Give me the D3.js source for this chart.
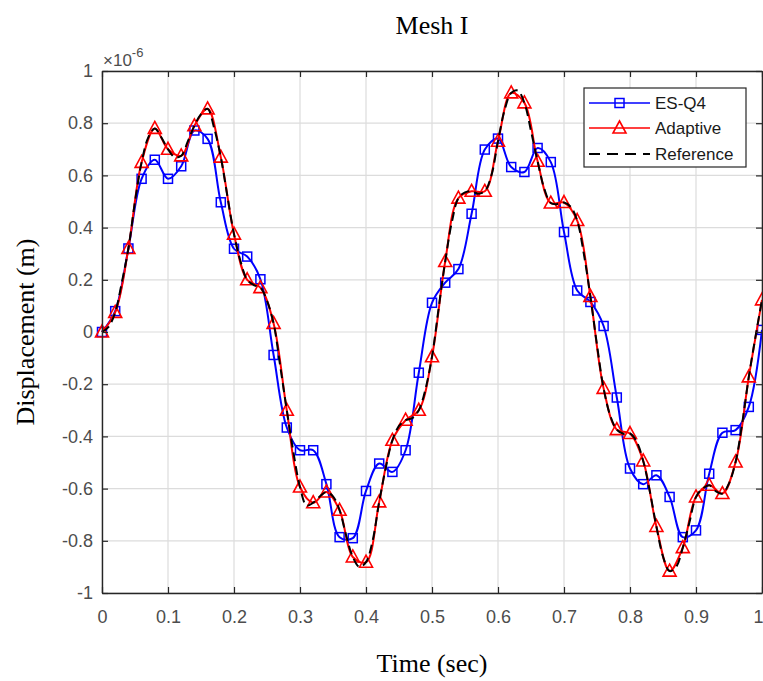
<!DOCTYPE html>
<html>
<head>
<meta charset="utf-8">
<script src="https://cdn.jsdelivr.net/npm/d3@7"></script>
<style>
  body { margin: 0; background: #fff; }
  svg { display: block; }
</style>
</head>
<body>
<svg id="chart" width="763" height="681"></svg>
<script>
// Axis ticks and labels
const xTicks = [0, 0.1, 0.2, 0.3, 0.4, 0.5, 0.6, 0.7, 0.8, 0.9, 1];
const xTickLabels = ["0", "0.1", "0.2", "0.3", "0.4", "0.5", "0.6", "0.7", "0.8", "0.9", "1"];
const yTicks = [-1, -0.8, -0.6, -0.4, -0.2, 0, 0.2, 0.4, 0.6, 0.8, 1];
const yTickLabels = ["-1", "-0.8", "-0.6", "-0.4", "-0.2", "0", "0.2", "0.4", "0.6", "0.8", "1"];

// Sample times (sec): markers every 0.02 s, reference solution every 0.01 s
const sampleTimes = d3.range(51).map(i => +(i * 0.02).toFixed(2));
const refTimes = d3.range(101).map(i => +(i * 0.01).toFixed(2));

// Displacement (x 1e-6 m)
const esq4 = [
  0.00, 0.08, 0.32, 0.587, 0.66, 0.587, 0.635, 0.772, 0.740, 0.497,
  0.319, 0.289, 0.202, -0.088, -0.366, -0.453, -0.453, -0.583, -0.786, -0.79,
  -0.609, -0.504, -0.536, -0.453, -0.156, 0.112, 0.189, 0.241, 0.453, 0.699,
  0.741, 0.632, 0.613, 0.705, 0.651, 0.383, 0.159, 0.115, 0.023, -0.251,
  -0.523, -0.583, -0.549, -0.632, -0.786, -0.760, -0.543, -0.386, -0.376, -0.287,
  0.008
];
const adaptive = [
  0.00, 0.075, 0.32, 0.65, 0.78, 0.70, 0.675, 0.79, 0.855, 0.67,
  0.375, 0.20, 0.17, 0.033, -0.30, -0.594, -0.654, -0.613, -0.683, -0.862,
  -0.882, -0.651, -0.415, -0.338, -0.30, -0.095, 0.270, 0.513, 0.539, 0.539,
  0.731, 0.916, 0.878, 0.654, 0.494, 0.496, 0.427, 0.136, -0.216, -0.374,
  -0.389, -0.494, -0.745, -0.916, -0.826, -0.632, -0.587, -0.619, -0.498, -0.172,
  0.123
];
const reference = [
  0.00, 0.02, 0.075, 0.19, 0.32, 0.50, 0.65, 0.745, 0.78, 0.745,
  0.70, 0.67, 0.675, 0.73, 0.79, 0.835, 0.855, 0.78, 0.67, 0.52,
  0.375, 0.27, 0.20, 0.18, 0.17, 0.12, 0.033, -0.13, -0.30, -0.46,
  -0.594, -0.665, -0.654, -0.63, -0.613, -0.63, -0.683, -0.78, -0.862, -0.90,
  -0.882, -0.80, -0.651, -0.52, -0.415, -0.36, -0.338, -0.33, -0.30, -0.22,
  -0.095, 0.09, 0.270, 0.42, 0.513, 0.535, 0.539, 0.53, 0.539, 0.60,
  0.731, 0.85, 0.916, 0.925, 0.878, 0.77, 0.654, 0.55, 0.494, 0.49,
  0.496, 0.48, 0.427, 0.30, 0.136, -0.05, -0.216, -0.32, -0.374, -0.39,
  -0.389, -0.42, -0.494, -0.61, -0.745, -0.86, -0.916, -0.90, -0.826, -0.73,
  -0.632, -0.60, -0.587, -0.61, -0.619, -0.58, -0.498, -0.35, -0.172, -0.02,
  0.123
];

const legendLabels = ["ES-Q4", "Adaptive", "Reference"];

const svg = d3.select("#chart");
const W = 763, H = 681;
const plot = { left: 102, right: 762, top: 71, bottom: 593 };

svg.append("rect").attr("width", W).attr("height", H).attr("fill", "#fff");

const x = d3.scaleLinear().domain([0, 1]).range([plot.left, plot.right]);
const y = d3.scaleLinear().domain([-1, 1]).range([plot.bottom, plot.top]);

const tickFont = "'Liberation Sans', Arial, Helvetica, sans-serif";
const axisColor = "#262626";
const tickLen = 6;

// Grid
const grid = svg.append("g").attr("class", "grid");
grid.selectAll("line.vx").data(xTicks).join("line")
  .attr("x1", d => x(d)).attr("x2", d => x(d))
  .attr("y1", plot.top).attr("y2", plot.bottom)
  .attr("stroke", "#dcdcdc").attr("stroke-width", 1.2);
grid.selectAll("line.hy").data(yTicks).join("line")
  .attr("y1", d => y(d)).attr("y2", d => y(d))
  .attr("x1", plot.left).attr("x2", plot.right)
  .attr("stroke", "#dcdcdc").attr("stroke-width", 1.2);

// Clip for series
svg.append("clipPath").attr("id", "plotClip")
  .append("rect")
  .attr("x", plot.left - 10).attr("y", plot.top - 10)
  .attr("width", W - plot.left + 10).attr("height", plot.bottom - plot.top + 20);

const series = svg.append("g").attr("clip-path", "url(#plotClip)");

const lineGen = d3.line().curve(d3.curveCatmullRom.alpha(0.5));

// ES-Q4
series.append("path")
  .attr("d", lineGen(sampleTimes.map((t, i) => [x(t), y(esq4[i])])))
  .attr("fill", "none").attr("stroke", "#0000ff").attr("stroke-width", 2);
series.selectAll("rect.sq").data(sampleTimes).join("rect")
  .attr("class", "sq")
  .attr("x", (t) => x(t) - 4.5)
  .attr("y", (t, i) => y(esq4[i]) - 4.5)
  .attr("width", 9).attr("height", 9)
  .attr("fill", "none").attr("stroke", "#0000ff").attr("stroke-width", 1.5);

// Adaptive
const triPath = "M0,-7 L6.5,5 L-6.5,5 Z";
series.append("path")
  .attr("d", lineGen(sampleTimes.map((t, i) => [x(t), y(adaptive[i])])))
  .attr("fill", "none").attr("stroke", "#ff0000").attr("stroke-width", 2);
series.selectAll("path.tri").data(sampleTimes).join("path")
  .attr("class", "tri")
  .attr("d", triPath)
  .attr("transform", (t, i) => `translate(${x(t)},${y(adaptive[i])})`)
  .attr("fill", "none").attr("stroke", "#ff0000").attr("stroke-width", 1.6);

// Reference
series.append("path")
  .attr("d", lineGen(refTimes.map((t, i) => [x(t), y(reference[i])])))
  .attr("fill", "none").attr("stroke", "#000").attr("stroke-width", 2)
  .attr("stroke-dasharray", "9,5");

// Axes (ticks point inward, box on all sides)
const styleAxis = g => {
  g.select(".domain").attr("stroke", axisColor).attr("stroke-width", 1.4);
  g.selectAll(".tick line").attr("stroke", axisColor).attr("stroke-width", 1.2);
  g.selectAll(".tick text").attr("fill", "#4d4d4d")
    .style("font-family", tickFont).style("font-size", "18px");
};

const xAxisG = svg.append("g").attr("transform", `translate(0,${plot.bottom})`)
  .call(d3.axisBottom(x).tickValues(xTicks).tickFormat((d, i) => xTickLabels[i])
    .tickSizeInner(-tickLen).tickSizeOuter(0).tickPadding(17))
  .call(styleAxis);
// keep the last label inside the canvas edge
xAxisG.selectAll(".tick text").filter(d => d === 1)
  .attr("text-anchor", "end").attr("x", 1);

svg.append("g").attr("transform", `translate(0,${plot.top})`)
  .call(d3.axisTop(x).tickValues(xTicks).tickFormat(() => "")
    .tickSizeInner(-tickLen).tickSizeOuter(0))
  .call(styleAxis);
svg.append("g").attr("transform", `translate(${plot.left},0)`)
  .call(d3.axisLeft(y).tickValues(yTicks).tickFormat((d, i) => yTickLabels[i])
    .tickSizeInner(-tickLen).tickSizeOuter(0).tickPadding(9))
  .call(styleAxis);
svg.append("g").attr("transform", `translate(${plot.right},0)`)
  .call(d3.axisRight(y).tickValues(yTicks).tickFormat(() => "")
    .tickSizeInner(-tickLen).tickSizeOuter(0))
  .call(styleAxis);

// Exponent label
const expo = svg.append("text")
  .attr("x", plot.left + 1).attr("y", plot.top - 5)
  .attr("fill", "#4d4d4d")
  .style("font-family", tickFont).style("font-size", "17px");
expo.append("tspan").text("\u00d710");
expo.append("tspan").attr("dy", -9).style("font-size", "13px").text("-6");

// Titles
const serif = "'Liberation Serif', 'Times New Roman', Times, serif";
svg.append("text")
  .attr("x", (plot.left + plot.right) / 2).attr("y", 34)
  .attr("text-anchor", "middle")
  .style("font-family", serif).style("font-size", "26px")
  .text("Mesh I");
svg.append("text")
  .attr("x", (plot.left + plot.right) / 2).attr("y", 672)
  .attr("text-anchor", "middle")
  .style("font-family", serif).style("font-size", "26px")
  .text("Time (sec)");
svg.append("text")
  .attr("transform", `translate(34,${(plot.top + plot.bottom) / 2}) rotate(-90)`)
  .attr("text-anchor", "middle")
  .style("font-family", serif).style("font-size", "26px")
  .text("Displacement (m)");

// Legend
const legend = svg.append("g");
legend.append("rect")
  .attr("x", 584).attr("y", 88).attr("width", 162).attr("height", 79)
  .attr("fill", "#fff").attr("stroke", axisColor).attr("stroke-width", 1.2);
const legY = [103, 128, 154];
const legColors = ["#0000ff", "#ff0000", "#000"];
legendLabels.forEach((label, i) => {
  const ly = legY[i];
  legend.append("line")
    .attr("x1", 589).attr("x2", 650).attr("y1", ly).attr("y2", ly)
    .attr("stroke", legColors[i]).attr("stroke-width", i === 2 ? 2 : 1.6)
    .attr("stroke-dasharray", i === 2 ? "11,7" : null);
  if (i === 0) {
    legend.append("rect").attr("x", 619.5 - 4.5).attr("y", ly - 4.5)
      .attr("width", 9).attr("height", 9)
      .attr("fill", "none").attr("stroke", "#0000ff").attr("stroke-width", 1.5);
  } else if (i === 1) {
    legend.append("path").attr("d", triPath)
      .attr("transform", `translate(619.5,${ly})`)
      .attr("fill", "none").attr("stroke", "#ff0000").attr("stroke-width", 1.6);
  }
  legend.append("text")
    .attr("x", 655).attr("y", ly).attr("dy", "0.36em")
    .attr("fill", "#1a1a1a")
    .style("font-family", tickFont).style("font-size", "17px")
    .text(label);
});
</script>
</body>
</html>
